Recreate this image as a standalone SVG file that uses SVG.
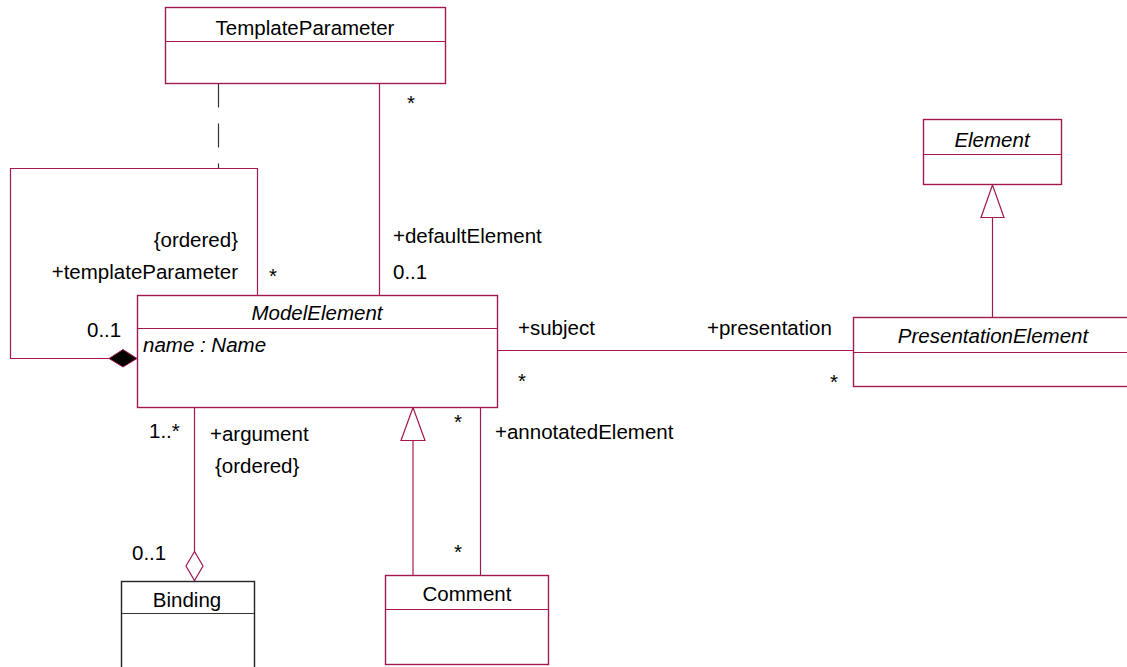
<svg xmlns="http://www.w3.org/2000/svg" width="1127" height="667" viewBox="0 0 1127 667">
<style>
.box{fill:#fff;stroke:#A3194F;stroke-width:1.4}
.bbox{fill:#fff;stroke:#222;stroke-width:1.4}
.div{stroke:#A3194F;stroke-width:1.2}
.bdiv{stroke:#333;stroke-width:1.2}
.ln{fill:none;stroke:#A3194F;stroke-width:1.2}
.dash{fill:none;stroke:#333;stroke-width:1.2;stroke-dasharray:24 16}
text{font-family:"Liberation Sans",Arial,sans-serif;font-size:20.5px;fill:#000}
.c{text-anchor:middle}
.e{text-anchor:end}
.i{font-style:italic}
</style>
<rect width="1127" height="667" fill="#fff"/>
<g id="connectors">
<path class="dash" d="M218.5 83.5 V168"/>
<polyline class="ln" points="257.5,295.5 257.5,168.5 10.5,168.5 10.5,358.5 109,358.5"/>
<polygon points="109,358.5 123,349.5 137,358.5 123,367" fill="#000" stroke="#A3194F" stroke-width="1"/>
<path class="ln" d="M379.5 83.5 V295.5"/>
<path class="ln" d="M497.5 350.5 H853.5"/>
<path class="ln" d="M992.5 217.5 V317.5"/>
<polygon points="992.5,185 981,217.5 1004,217.5" fill="#fff" stroke="#A3194F" stroke-width="1.2"/>
<path class="ln" d="M194.5 407.5 V551.5"/>
<polygon points="194.5,551.5 186,566 194.5,580.5 203,566" fill="#fff" stroke="#A3194F" stroke-width="1.2"/>
<path class="ln" d="M413 440.5 V575.5"/>
<polygon points="413,407.5 401,440.5 425,440.5" fill="#fff" stroke="#A3194F" stroke-width="1.2"/>
<path class="ln" d="M480.5 407.5 V575.5"/>
<text x="411" y="110" class="c">*</text>
<text x="238" y="247" class="e">{ordered}</text>
<text x="238" y="279" class="e">+templateParameter</text>
<text x="273" y="283" class="c">*</text>
<text x="393" y="243">+defaultElement</text>
<text x="393" y="279">0..1</text>
<text x="87" y="337">0..1</text>
<text x="518" y="335">+subject</text>
<text x="707" y="335">+presentation</text>
<text x="522" y="388" class="c">*</text>
<text x="834" y="389" class="c">*</text>
<text x="149" y="438">1..*</text>
<text x="210" y="441">+argument</text>
<text x="215" y="473">{ordered}</text>
<text x="132" y="560">0..1</text>
<text x="458" y="429" class="c">*</text>
<text x="458" y="559" class="c">*</text>
<text x="495" y="439">+annotatedElement</text>
</g>
<g id="TemplateParameter">
<rect class="box" x="165.5" y="7.5" width="280" height="76"/>
<line class="div" x1="165.5" y1="41.5" x2="445.5" y2="41.5"/>
<text x="305" y="35" class="c">TemplateParameter</text>
</g>
<g id="Element">
<rect class="box" x="923.5" y="119.5" width="138" height="65"/>
<line class="div" x1="923.5" y1="154.5" x2="1061.5" y2="154.5"/>
<text x="992" y="147" class="c i">Element</text>
</g>
<g id="PresentationElement">
<rect class="box" x="853.5" y="317.5" width="280" height="69"/>
<line class="div" x1="853.5" y1="352.5" x2="1133.5" y2="352.5"/>
<text x="993" y="343" class="c i">PresentationElement</text>
</g>
<g id="ModelElement">
<rect class="box" x="137.5" y="295.5" width="360" height="112"/>
<line class="div" x1="137.5" y1="328.5" x2="497.5" y2="328.5"/>
<text x="317" y="320" class="c i">ModelElement</text>
<text x="143" y="352" class="i">name : Name</text>
</g>
<g id="Binding">
<rect class="bbox" x="121.5" y="581.5" width="133" height="100"/>
<line class="bdiv" x1="121.5" y1="613.5" x2="254.5" y2="613.5"/>
<text x="187" y="607" class="c">Binding</text>
</g>
<g id="Comment">
<rect class="box" x="385.5" y="575.5" width="163" height="89"/>
<line class="div" x1="385.5" y1="609.5" x2="548.5" y2="609.5"/>
<text x="467" y="601" class="c">Comment</text>
</g>
</svg>
